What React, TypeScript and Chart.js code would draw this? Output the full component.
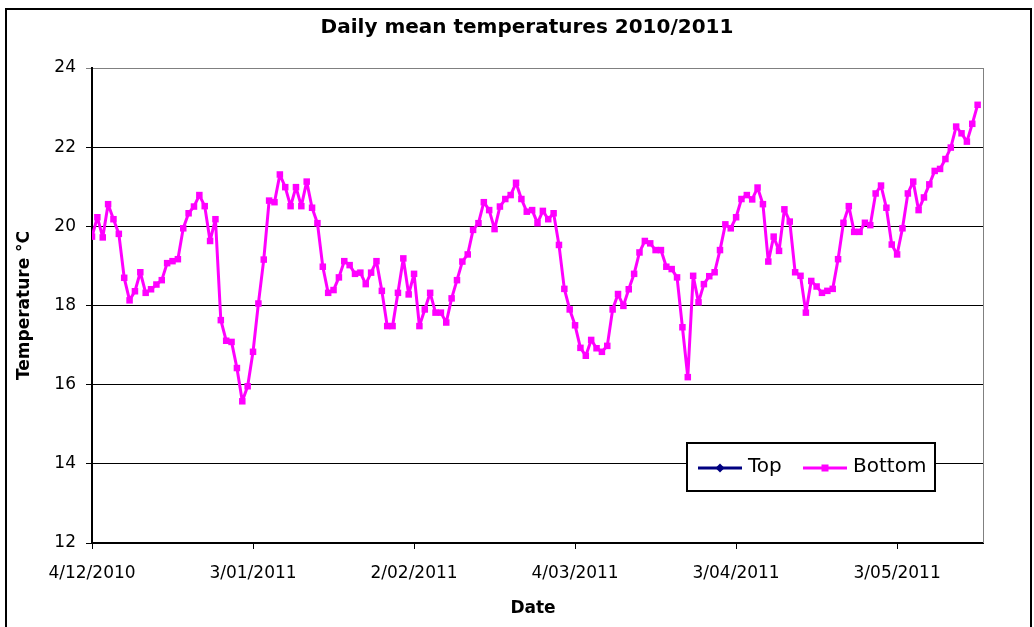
import React, { useEffect, useRef } from "react";
import { Chart, registerables } from "chart.js";

Chart.register(...registerables);

const chartTitle = "Daily mean temperatures 2010/2011";
const xAxisTitle = "Date";
const yAxisTitle = "Temperature °C";

// x tick positions (days since 4/12/2010) and their labels
const tickDays = [0, 30, 60, 90, 120, 150];
const tickLabels = ["4/12/2010", "3/01/2011", "2/02/2011", "4/03/2011", "3/04/2011", "3/05/2011"];

const seriesNames = ["Top", "Bottom"];
const seriesColors = ["#000080", "#FF00FF"];

// Top series: no visible values in the picture
const topTemps: number[] = [];

// Bottom series: one value per day starting 4/12/2010
const bottomTemps = [
  19.74, 20.23, 19.72, 20.56, 20.18, 19.81, 18.70, 18.13, 18.36, 18.84,
  18.32, 18.41, 18.53, 18.64, 19.07, 19.12, 19.17, 19.95, 20.33, 20.50,
  20.79, 20.51, 19.63, 20.18, 17.63, 17.11, 17.08, 16.42, 15.58, 15.96,
  16.83, 18.05, 19.16, 20.65, 20.61, 21.31, 20.99, 20.51, 20.99, 20.51,
  21.13, 20.47, 20.08, 18.98, 18.32, 18.39, 18.71, 19.12, 19.02, 18.80,
  18.83, 18.54, 18.83, 19.12, 18.37, 17.48, 17.48, 18.32, 19.19, 18.28,
  18.80, 17.48, 17.90, 18.32, 17.82, 17.82, 17.57, 18.18, 18.64, 19.11,
  19.29, 19.91, 20.08, 20.61, 20.41, 19.93, 20.50, 20.69, 20.79, 21.10,
  20.69, 20.37, 20.41, 20.08, 20.39, 20.18, 20.33, 19.53, 18.42, 17.90,
  17.50, 16.93, 16.73, 17.13, 16.92, 16.83, 16.98, 17.90, 18.29, 17.99,
  18.41, 18.80, 19.34, 19.63, 19.57, 19.40, 19.40, 18.98, 18.92, 18.71,
  17.45, 16.19, 18.75, 18.08, 18.54, 18.74, 18.84, 19.40, 20.05, 19.95,
  20.23, 20.69, 20.79, 20.68, 20.98, 20.56, 19.11, 19.74, 19.38, 20.43,
  20.12, 18.84, 18.75, 17.82, 18.62, 18.48, 18.32, 18.37, 18.42, 19.17,
  20.09, 20.51, 19.86, 19.86, 20.09, 20.03, 20.83, 21.03, 20.47, 19.54,
  19.29, 19.95, 20.83, 21.13, 20.41, 20.73, 21.06, 21.40, 21.45, 21.70,
  21.99, 22.52, 22.35, 22.14, 22.59, 23.07,
];

const FONT = "'DejaVu Sans', 'Liberation Sans', Arial, sans-serif";

const decorPlugin = {
  id: "decor",
  beforeDatasetsDraw(chart: any) {
    const { ctx, chartArea } = chart;
    ctx.save();
    // grey plot border on the right
    ctx.strokeStyle = "#808080";
    ctx.lineWidth = 1;
    ctx.beginPath();
    ctx.moveTo(Math.round(chartArea.right) + 0.5, chartArea.top);
    ctx.lineTo(Math.round(chartArea.right) + 0.5, chartArea.bottom);
    ctx.stroke();
    ctx.restore();
  },
  afterDraw(chart: any) {
    const { ctx, chartArea } = chart;
    ctx.save();
    // outer frame
    ctx.strokeStyle = "#000";
    ctx.lineWidth = 2;
    ctx.strokeRect(6, 9, 1025, 700);

    // title
    ctx.fillStyle = "#000";
    ctx.textAlign = "center";
    ctx.textBaseline = "middle";
    ctx.font = `bold 20px ${FONT}`;
    ctx.fillText(chartTitle, 527, 28);

    // x axis title
    ctx.font = `bold 17px ${FONT}`;
    ctx.fillText(xAxisTitle, 533, 609);

    // y axis title
    ctx.save();
    ctx.translate(25, (chartArea.top + chartArea.bottom) / 2);
    ctx.rotate(-Math.PI / 2);
    ctx.fillText(yAxisTitle, 0, 0);
    ctx.restore();

    // legend
    const bx = 687, by = 443, bw = 248, bh = 48;
    ctx.fillStyle = "#fff";
    ctx.fillRect(bx, by, bw, bh);
    ctx.strokeStyle = "#000";
    ctx.lineWidth = 2;
    ctx.strokeRect(bx, by, bw, bh);
    const ly = by + bh / 2 + 1;
    const items = chart.data.datasets;
    const starts = [698, 803];
    items.forEach((ds: any, i: number) => {
      const x0 = starts[i];
      ctx.strokeStyle = ds.borderColor;
      ctx.lineWidth = 3;
      ctx.beginPath();
      ctx.moveTo(x0, ly);
      ctx.lineTo(x0 + 44, ly);
      ctx.stroke();
      ctx.fillStyle = ds.borderColor;
      const cx = x0 + 22;
      if (ds.pointStyle === "rectRot") {
        ctx.beginPath();
        ctx.moveTo(cx, ly - 4.5);
        ctx.lineTo(cx + 4.5, ly);
        ctx.lineTo(cx, ly + 4.5);
        ctx.lineTo(cx - 4.5, ly);
        ctx.closePath();
        ctx.fill();
      } else {
        ctx.fillRect(cx - 3.5, ly - 3.5, 7, 7);
      }
      ctx.fillStyle = "#000";
      ctx.textAlign = "left";
      ctx.textBaseline = "middle";
      ctx.font = `20px ${FONT}`;
      ctx.fillText(ds.label, x0 + 50, ly - 1);
    });
    ctx.restore();
  },
};

export default function App() {
  const canvasRef = useRef<HTMLCanvasElement | null>(null);

  useEffect(() => {
    const canvas = canvasRef.current;
    if (!canvas) return;
    const chart = new Chart(canvas, {
      type: "line",
      data: {
        datasets: [
          {
            label: seriesNames[0],
            data: topTemps.map((v, i) => ({ x: i, y: v })),
            borderColor: seriesColors[0],
            backgroundColor: seriesColors[0],
            borderWidth: 3,
            pointStyle: "rectRot",
            pointRadius: 4,
            pointBorderWidth: 0,
          },
          {
            label: seriesNames[1],
            data: bottomTemps.map((v, i) => ({ x: i, y: v })),
            borderColor: seriesColors[1],
            backgroundColor: seriesColors[1],
            pointBackgroundColor: seriesColors[1],
            borderWidth: 3,
            borderJoinStyle: "round",
            borderCapStyle: "round",
            pointStyle: "rect",
            pointRadius: 4.6,
            pointBorderWidth: 0,
            tension: 0,
          },
        ],
      },
      options: {
        animation: false,
        responsive: false,
        devicePixelRatio: 1,
        layout: { padding: { left: 0, top: 68, right: 51, bottom: 0 } },
        plugins: {
          legend: { display: false },
          title: { display: false },
          tooltip: { enabled: false },
        },
        scales: {
          x: {
            type: "linear",
            min: 0,
            max: 166,
            afterFit: (scale: any) => {
              scale.height = 84;
            },
            afterBuildTicks: (scale: any) => {
              scale.ticks = tickDays.map((v) => ({ value: v }));
            },
            grid: {
              drawOnChartArea: false,
              drawTicks: true,
              tickLength: 6,
              color: "#000",
              lineWidth: 1,
            },
            border: { display: true, color: "#000", width: 2 },
            ticks: {
              padding: 14,
              color: "#000",
              font: { family: FONT, size: 17 },
              maxRotation: 0,
              autoSkip: false,
              callback: (value: any) => {
                const idx = tickDays.indexOf(Number(value));
                return idx >= 0 ? tickLabels[idx] : "";
              },
            },
          },
          y: {
            min: 12,
            max: 24,
            afterFit: (scale: any) => {
              scale.width = 92;
            },
            grid: {
              drawTicks: true,
              tickLength: 6,
              lineWidth: 1,
              color: (c: any) => (c.tick && c.tick.value === 24 ? "#808080" : "#000"),
            },
            border: { display: true, color: "#000", width: 2 },
            ticks: {
              stepSize: 2,
              padding: 10,
              color: "#000",
              font: { family: FONT, size: 17 },
            },
          },
        },
      },
      plugins: [decorPlugin],
    } as any);
    return () => chart.destroy();
  }, []);

  return (
    <div style={{ position: "fixed", left: 0, top: 0, width: 1034, height: 627, background: "#fff" }}>
      <canvas ref={canvasRef} width={1034} height={627} style={{ display: "block" }} />
    </div>
  );
}
